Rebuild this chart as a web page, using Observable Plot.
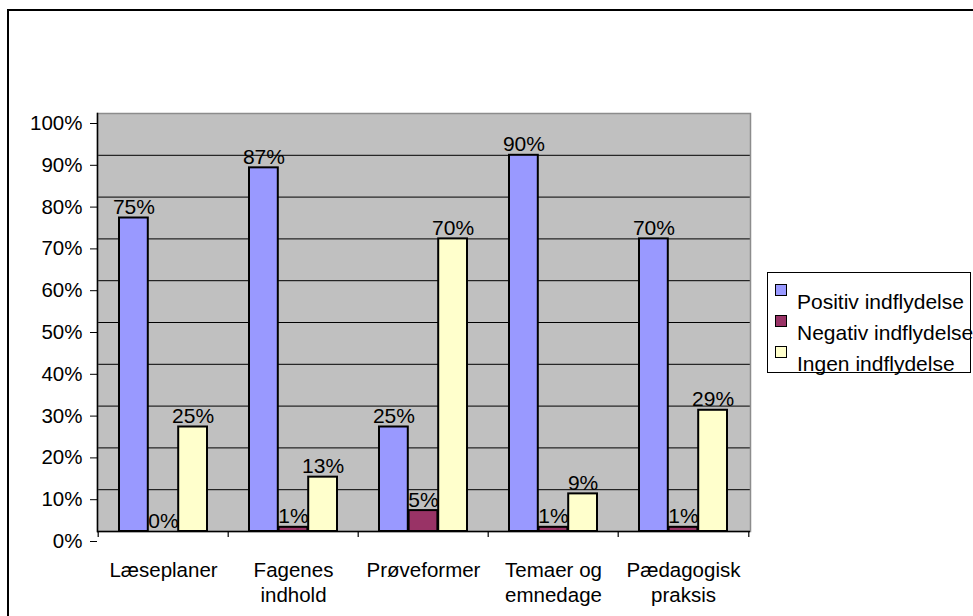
<!DOCTYPE html>
<html>
<head>
<meta charset="utf-8">
<script src="https://cdn.jsdelivr.net/npm/d3@7"></script>
<script src="https://cdn.jsdelivr.net/npm/@observablehq/plot@0.6"></script>
<style>
  html, body { margin: 0; padding: 0; background: #fff; overflow: hidden; width: 973px; height: 616px; }
  #wrap { position: relative; width: 973px; height: 616px; overflow: hidden; font-family: "Liberation Sans", Arial, sans-serif; }
  #outer { position: absolute; left: 7px; top: 9px; width: 1000px; height: 700px; border: 2px solid #000; }
  #chart { position: absolute; left: 0; top: 0; }
  #legend { position: absolute; left: 767px; top: 272px; width: 202px; height: 99px; border: 1px solid #000; background: #fff; overflow: visible; white-space: nowrap; }
  .item { position: absolute; left: 0; height: 31px; }
  .sw { position: absolute; left: 7px; width: 10px; height: 10px; border: 1px solid #000; }
  .lt { position: absolute; left: 29px; font-size: 21px; line-height: 21px; color: #000; }
</style>
</head>
<body>
<div id="wrap">
  <div id="outer"></div>
  <div id="chart"></div>
  <div id="legend"></div>
</div>
<script>
// ---- data ----
const categories = ["Læseplaner", "Fagenes\nindhold", "Prøveformer", "Temaer og\nemnedage", "Pædagogisk\npraksis"];
const seriesNames = ["Positiv indflydelse", "Negativ indflydelse", "Ingen indflydelse"];
const positiv = [0.75, 0.87, 0.25, 0.90, 0.70];
const negativ = [0.00, 0.01, 0.05, 0.01, 0.01];
const ingen   = [0.25, 0.13, 0.70, 0.09, 0.29];
const seriesColors = ["#9999ff", "#993366", "#ffffcc"];
const yTicks = [0, 0.1, 0.2, 0.3, 0.4, 0.5, 0.6, 0.7, 0.8, 0.9, 1.0];

const seriesValues = [positiv, negativ, ingen];

// ---- layout ----
const W = 973, H = 616;
const mL = 97, mR = 223, mT = 113, mB = 85;
const padIn = 0.32, padOut = 0.16;
const step = (W - mL - mR) / categories.length;
const bw = step * (1 - padIn) / 3;
const fontSize = 20.5;
const fmt = d => Math.round(d * 100) + "%";

const seriesMarks = [];
seriesValues.forEach((vals, s) => {
  const rows = categories.map((c, i) => ({category: c, value: vals[i]}));
  seriesMarks.push(
    Plot.barY(rows, {
      x: "category", y: "value",
      fill: seriesColors[s], stroke: "#000", strokeWidth: 2,
      insetLeft: s * bw, insetRight: (2 - s) * bw
    })
  );
  seriesMarks.push(
    Plot.text(rows, {
      x: "category", y: "value", text: d => fmt(d.value),
      dx: (s - 1) * bw, dy: -4, lineAnchor: "bottom", fontSize: 21, fill: "#000"
    })
  );
});

const plot = Plot.plot({
  width: W, height: H,
  marginLeft: mL, marginRight: mR, marginTop: mT, marginBottom: mB,
  style: {fontFamily: "'Liberation Sans', Arial, sans-serif", fontSize: fontSize + "px", color: "#000", background: "transparent", overflow: "visible"},
  x: {domain: categories, paddingInner: padIn, paddingOuter: padOut, axis: null},
  y: {domain: [0, 1], axis: null},
  marks: [
    Plot.frame({fill: "#c0c0c0", stroke: null}),
    Plot.ruleY(yTicks, {stroke: "#000", strokeWidth: 1}),
    Plot.frame({stroke: "#8c8c8c", strokeWidth: 1.5}),
    Plot.ruleY([0], {stroke: "#000", strokeWidth: 1.5}),
    Plot.frame({anchor: "left", stroke: "#000", strokeWidth: 1.5}),
    Plot.axisY(yTicks, {tickFormat: fmt, tickSize: 7, tickPadding: 8, label: null, fontSize, dy: 10, stroke: "#000"}),
    Plot.ruleX(categories, {x: d => d, y1: 0, y2: 0, dx: -step / 2, insetBottom: -6, stroke: "#000", strokeWidth: 1.2}),
    Plot.ruleX([categories[categories.length - 1]], {x: d => d, y1: 0, y2: 0, dx: step / 2, insetBottom: -6, stroke: "#000", strokeWidth: 1.2}),
    Plot.text(categories, {x: d => d, frameAnchor: "bottom", text: d => d, lineAnchor: "top", dy: 28, lineHeight: 1.22, fontSize, fill: "#000"}),
    ...seriesMarks
  ]
});
document.getElementById("chart").appendChild(plot);

// ---- legend ----
const legend = d3.select("#legend");
seriesNames.forEach((name, i) => {
  const item = legend.append("div").attr("class", "item").style("top", (i * 31) + "px");
  item.append("div").attr("class", "sw").style("top", "11px").style("background", seriesColors[i]);
  item.append("div").attr("class", "lt").style("top", "18px").text(name);
});
</script>
</body>
</html>
